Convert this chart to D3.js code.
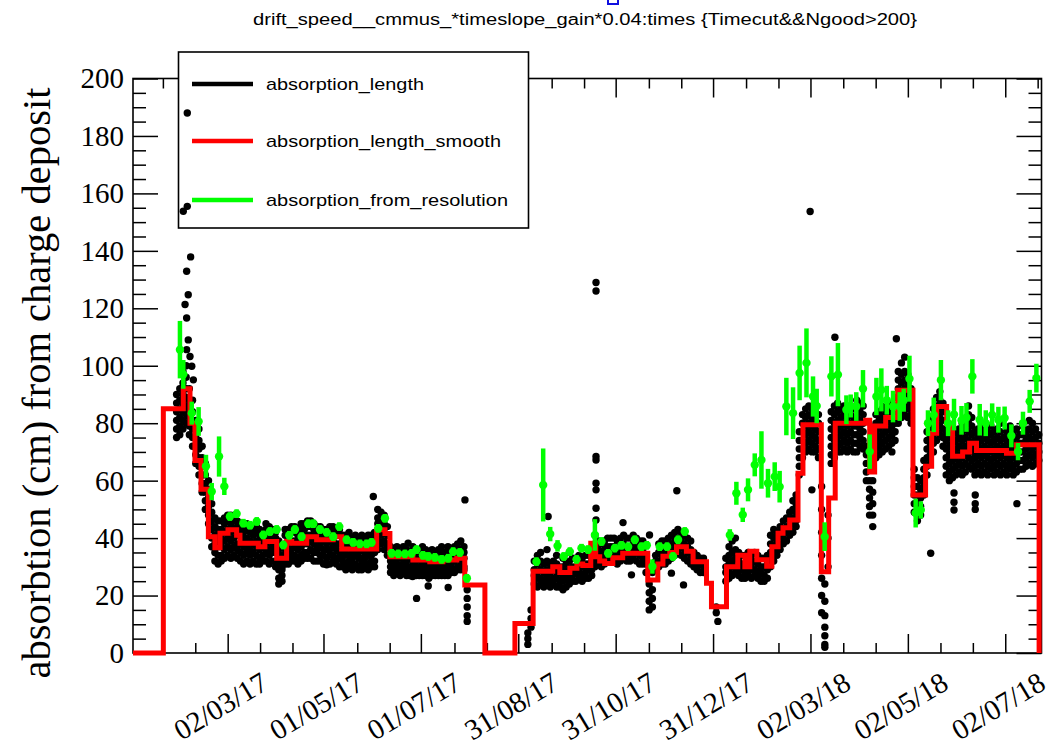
<!DOCTYPE html>
<html>
<head>
<meta charset="utf-8">
<script src="https://cdn.jsdelivr.net/npm/d3@7"></script>
<style>
  body { margin: 0; background: #fff; }
  svg { display: block; }
</style>
</head>
<body>
<svg id="chart" width="1051" height="747"></svg>
<script>
// ---- labels ----
const chartTitle = "drift_speed__cmmus_*timeslope_gain*0.04:times {Timecut&&Ngood>200}";
const yAxisTitle = "absorbtion (cm) from charge deposit";
const seriesNames = ["absorption_length", "absorption_length_smooth", "absorption_from_resolution"];
const seriesColors = ["#000000", "#ff0000", "#00ff00"];
const xTickLabels = ["02/03/17", "01/05/17", "01/07/17", "31/08/17", "31/10/17", "31/12/17", "02/03/18", "02/05/18", "02/07/18"];
const yTickValues = [0, 20, 40, 60, 80, 100, 120, 140, 160, 180, 200];

// ---- data: times are days since 1 Jan 2017 ----
const timeRangeDays = [0.7, 569.7];
const yRange = [0, 200];

// absorption_length: [day, value, value, ...]
const absorptionLength = [
  [28,75,78,81,84,87,90],[30,76,79,82,85,88,92],[32,78,81,84,87,90,94,98],[34,80,83,86,89,92,96,100],
  [36,76,79,82,85,88,92],[38,72,75,78,81,84,88],[40,66,69,72,75,78,81],[42,62,65,68,71,74,78],
  [44,56,59,62,65,68,72],[46,50,53,56,59,62,66],[48,45,48,51,54,57,60],[50,37,40,43,46,49,52],
  [52,32,35,38,41,44,47],[54,31,34,37,40,43,46],[56,32,34,37,40,43,46],[58,33,36,39,42,45,47],
  [60,34,37,40,43,46,48],[62,33,36,39,42,45,48],[64,34,37,40,43,46],[66,33,36,38,41,44,46],
  [68,32,35,38,41,43,45],[70,31,34,37,40,42,44],[72,32,35,37,40,43,45],[74,31,34,36,39,42,44],
  [76,32,35,38,41,43],[78,31,34,37,39,42,44],[80,31,33,36,39,41,43],[82,32,34,37,40,42],
  [84,32,35,38,40,43,45],[86,31,34,36,39,42,44],[88,32,35,37,40,43],[90,30,32,35,38,40,42],
  [92,29,31,34,36,39,24,26],[94,30,32,34,37,25,27,29],[96,31,33,36,38,41,43],[98,31,33,35,38,41,43],
  [100,32,34,36,39,42,44],[102,32,34,37,39,42,44],[104,31,33,36,38,41,43],[106,32,34,37,40,43,45],
  [108,33,35,38,40,43,45],[110,33,35,38,41,44,46],[112,33,36,39,41,44,46],[114,32,35,38,40,43,45],
  [116,32,35,37,40,42,44],[118,32,34,37,39,42,44],[120,31,34,36,39,41,43],[122,31,33,36,38,41,43],
  [124,31,34,36,39,42,44],[126,32,34,37,39,42,44],[128,31,33,36,38,41,43],[130,30,33,35,38,41,43],
  [132,30,32,34,36,39,41],[134,29,31,34,36,38,41],[136,30,32,34,37,39,42],[138,29,31,33,35,38,40],
  [140,30,31,34,36,38,41],[142,29,30,33,35,38,40],[144,29,31,33,36,38,41],[146,30,31,33,35,37,40],
  [148,29,31,34,36,38,41],[150,30,32,34,37,39,41],[152,30,32,35,37,40,42],[154,36,39,42,45,47,50],
  [156,38,41,44,47,49],[158,36,39,42,45,48],[160,34,37,38,41,44],
  [162,28,30,32,34,37],[164,27,29,31,33,36],[166,28,30,31,33,35,37],[168,27,28,30,33,35],
  [170,28,29,31,33,35,37],[172,27,28,30,32,34,36],[174,27,28,30,33,35],[176,27,29,31,33,35,37],
  [178,27,28,30,32,34,36],[180,27,28,30,33,35],[182,27,29,31,33,35,37],[184,27,28,30,32,34,36],
  [186,26,27,29,31,33,35],[188,27,28,30,32,34,36],[190,27,28,30,33,35],[192,27,28,30,32,34,36],
  [194,27,28,30,33,35,37],[196,27,29,31,33,35],[198,27,28,30,33,35,37],[200,28,29,31,34,36],
  [202,28,29,32,34,37],[204,29,30,33,35,38],[206,29,31,33,36,39],[208,29,30,33,35,37],
  [210,22,19,16,13,11],
  [248,3,5,7],[250,9,12,15],[252,24,27,29,32],[254,23,26,28,31,34],[256,24,26,29,32,35],
  [258,23,25,28,31],[260,24,27,29,32,36],[262,23,25,28,31],[264,24,26,29,32],[266,23,26,28,31,34],
  [268,23,25,28,30],[270,22,25,27,30,33],[272,23,26,28,31],[274,24,26,29,32,35],[276,25,27,30,33],
  [278,25,28,30,33],[280,26,28,31,34],[282,25,27,30,33],[284,26,28,31,34],[286,26,29,31,34],
  [288,27,29,32,35],[290,30,32,35,38,41],[292,31,33,36,39],[294,30,33,35,38],[296,31,33,36,39],
  [298,32,34,37,40],[300,32,35,37,40],[302,32,34,37,40],[304,31,34,36,39],[306,32,35,37,40],
  [308,33,35,38,41],[310,32,35,37,40],[312,32,34,37,40],[314,33,36,38,41],[316,32,35,37,40],
  [318,31,34,36,39],[320,31,33,36,39],[322,28,31,33],[324,15,18,21,24,30],[326,16,19,22,28],
  [328,29,32,34],[330,30,32,35,38],[332,31,33,36,39],[334,31,34,36,39],[336,32,34,37,40],
  [338,33,35,38,41],[340,34,36,39,42],[342,35,37,40,43],[344,34,37,39,42],[346,33,36,38,41],
  [348,32,35,37,40],[350,31,34,36,39],[352,30,32,35],[354,29,31,34],[356,28,31,33],[358,28,30,33],
  [366,16,14],[367,11],
  [372,25,28,30,33],[374,26,28,31,34,37],[376,27,30,32,35,39],[378,28,30,33,36,40],[380,27,29,32,35],
  [382,26,29,31,34],[384,26,28,31,34],[386,27,29,32,35],[388,26,29,31,34],[390,27,29,32,35],
  [392,26,28,31,34],[394,25,28,30,33],[396,25,27,30,33],[398,26,29,31,34],[400,30,33,35,38,41],
  [402,32,34,37,40,43],[404,34,36,39,42],[406,36,38,41,44],[408,38,40,43,46],[410,39,42,44,47],
  [412,41,43,46,49],[414,42,45,47,50,53],[416,44,46,49,52,55],[418,62,65,68,71,74,77],
  [420,68,71,74,77,80,83],[422,70,73,76,79,82,85],[424,71,74,77,80,83,86],[426,70,73,76,79,82,85],
  [428,70,72,75,78,81,84],[430,68,71,74,77,80,83],[432,58,50,42,34,26,20,14],[434,24,18,13,9,6,3,2],
  [436,48,40,30],[438,66,69,72,75,78,81,84],[440,68,71,74,77,80,83,86],[442,70,72,75,78,81,84,87],
  [444,70,73,76,79,82,85],[446,71,74,77,80,83,86],[448,70,73,76,79,82,85],[450,71,74,77,80,83,86],
  [452,70,73,76,79,82,85],[454,70,73,76,79,82,85,88],[456,72,75,78,81,84,87],[458,71,74,77,80,83,86],
  [460,60,63,66,69,72],[462,48,51,54,57,60],[464,44,48,52,56,60],[466,68,71,74,77,80,83],
  [468,69,72,75,78,81,84],[470,70,73,76,79,82,85],[472,71,74,77,80,83,86],[474,72,75,78,81,84,87],
  [476,70,73,76,79,82,85],[478,74,77,80,83,86,89],[480,80,83,86,89,92,95,98],[482,82,85,88,91,94,97,101],
  [484,83,86,89,92,95,98,103],[486,82,85,88,91,94,97],[488,80,83,86,89,92],[490,49,52,55,58,61,64],
  [492,46,49,52,55,58,61],[494,48,51,54,57,60],[496,55,58,61,64,67],[498,62,65,68,71,74,77],
  [500,66,69,72,75,78,81],[502,70,73,76,79,82,85],[504,74,77,80,83,86,89],[506,76,79,82,85,88,91],
  [508,72,75,78,81,84,87],[510,62,65,68,71,74,77],[512,60,63,66,69,72,75],[514,61,64,67,70,73,76],
  [516,62,65,68,71,74,77],[518,63,66,69,72,75,78],[520,62,65,68,71,74,77,80],[522,63,66,69,72,75,78],
  [524,65,68,71,74,77,80,83,86],[526,64,67,70,73,76,79,82],[528,62,65,68,71,74,77],[530,63,66,69,72,75,78],
  [532,62,65,68,71,74,77,80],[534,63,66,69,72,75,78],[536,62,65,68,71,74,77],[538,64,67,70,73,76,79],
  [540,62,65,68,71,74,77],[542,63,66,69,72,75,78],[544,62,65,68,71,74,77,80],[546,63,66,69,72,75],
  [548,62,65,68,71,74,77],[550,64,67,70,73,76,79],[552,62,65,68,71,74,77],[554,63,66,69,72,75,78],
  [556,64,67,70,73,76],[558,64,67,70,73,76,79],[560,65,68,71,74,77],[562,66,69,72,75,78,81],
  [564,65,68,71,74,77,80],[566,66,69,72,75,78],[568,67,70,73,76]
];

// isolated absorption_length points: [day, value]
const absorptionOutliers = [
  [32.2,153.8],[34.7,155.5],[34.7,188],[36.8,137.9],[34.3,132.9],[34.3,116.6],[34.3,105.6],
  [35.3,124.7],[35.3,109],[33.3,121.3],[36.4,103.2],[37.5,99.8],[38.5,95.1],
  [122,30.7],[151.2,54.5],[178.3,19],[185.6,23.3],[198.1,22.8],[175.8,26.6],[173,38.2],[208.6,53.3],
  [260.7,47.5],[290.7,129],[290.7,126],[290.7,68.4],[290.7,67.2],[290.7,59.1],[290.7,56.8],
  [290.7,50.4],[290.7,46.3],[307.6,45.4],[312.9,27.2],[324.2,41.1],[341.3,56.5],[345.5,23.7],
  [337.9,27.8],[424.8,153.7],[425.9,56.8],[440.3,109.9],[478.8,109.4],[500.3,34.7],
  [514.9,55.7],[514.9,52.5],[514.9,49.8],[528.2,55],[528.2,52],[528.2,50],[554.3,52]
];

// absorption_length_smooth: step starts [day, value]
const smoothSteps = [
  [0.7,0],[19.7,85],[32.2,92],[36.4,80],[39.5,67],[43.3,57],[47.9,40.5],[52,36.6],[55.2,41.7],
  [60.2,42.9],[65.6,41],[67.7,38.2],[79.2,37],[83.3,38.8],[90.7,33],[96.9,38.8],[100.1,38.2],
  [109.5,40.5],[115.7,39.4],[126.1,40.5],[131.4,36.2],[153.3,42.9],[158.5,41.6],[161.6,33.5],
  [176,32.4],[186.6,31.8],[194.8,32.4],[203.5,33],[208.5,23.7],[221.1,0],[239.9,10.3],
  [251.3,28.5],[263.6,30],[268,28],[274.3,29.5],[278.7,31],[282.4,30.5],[287.4,38.2],[290.5,33.5],
  [293,32],[296.1,31.2],[301.2,33.2],[307.4,34.7],[323.1,25.4],[329.4,31],[332.6,33.7],
  [336.9,35],[341.1,37],[347.3,35.4],[351.5,31.8],[359.9,24.3],[363,16.1],[372.4,30],[379.5,34],
  [383.9,30],[387,35.4],[391.4,32.5],[397.6,30.2],[400.8,37],[404.7,41.7],[407.8,43.6],[412,46.3],
  [417.2,62.6],[420.3,79.5],[431.8,28.3],[436.4,54],[440.5,80],[459.6,81],[462.1,63],[465.2,79],
  [472.1,82],[479.6,91.5],[489.2,55],[497.1,65],[500.9,76.5],[504,85.8],[510.3,80],[514,68.5],
  [520.3,70],[524.7,73],[529,70.5],[547.8,69.5],[554.1,72.5],[568.2,0]
];

// absorption_from_resolution: [day, value, error]
const resolutionPoints = [
  [30.1,105.6,10],[32.2,97,5],[37.5,83.5,4],[41.8,80.6,5],[46.4,65,4],[50,56.2,3],[54.6,68.4,7],
  [57.9,58,3],[61.4,47.5,1.5],[65.6,48.5,1.5],[69.8,45.2,1.5],[74,44.5,1.5],[78.2,45.8,1.5],
  [82.3,41.1,1.5],[86.5,42.3,1.5],[90.7,43,1.5],[94.8,37.6,1.5],[98.6,41,1.5],[102.1,43,1.5],
  [106.3,40.5,1.5],[110.5,45,1.5],[113.6,45,1.5],[117.8,43,1.5],[122,42,1.5],[126.1,40.5,1.5],
  [129.9,44,1.5],[134.5,39.4,1.5],[138.6,38.5,1.5],[142.8,38,1.5],[147,38,1.5],[150.1,38.5,1.5],
  [154.3,43.4,1.5],[158.5,46.9,1.5],[162.7,34.7,1.5],[166.8,34.5,1.5],[171,34.5,1.5],
  [175.2,34.7,1.5],[178.3,36,1.5],[182.3,34,1.5],[185.6,33.6,1.5],[189.8,33.3,1.5],[194,32.6,1.5],
  [198.1,33,1.5],[201.2,35.3,1.5],[205.4,35,1.5],[209.8,26,1.5],
  [253.4,31.8,1.5],[257.6,58.5,12.7],[262,41.4,2.5],[266.6,37.3,2],[270.5,33.6,1.5],
  [274.3,35.3,1.5],[278.5,32.6,1.5],[281.6,36.5,1.5],[285.7,36,1.5],[290,41.1,5.5],
  [294.1,38.8,1.5],[298.3,34.7,1.5],[302.5,36.5,1.5],[306.6,37.5,1.5],[310.8,37,1.5],
  [315,39.4,1.5],[319.2,37,1.5],[322.5,37.5,1.5],[326,30.1,2.5],[330.6,37,1.5],[335.2,37,1.5],
  [338.9,33.6,1.5],[342.1,39.4,1.5],[346.3,42.3,1.5],
  [374.5,41.1,2],[378.6,55.6,4],[382.6,48.1,2.5],[385.9,56.8,4],[390.1,65.5,4],[394.3,67.2,10],
  [398.4,59.1,5],[402.6,61.4,5],[405.7,57.9,5.5],[409.9,85.8,10],[414.1,83.5,9],[418.2,97.5,9.5],
  [422.5,101,12],[426.6,89.3,7],[428.9,86,6],[433.9,40.5,5],[438.1,96.3,7],[442.2,96.9,11],
  [447.5,84.7,5],[450.2,86,4],[453.7,85.8,5],[457.9,92,6.5],[462.1,70.1,6],[466.3,89.3,6.5],
  [469.4,91.6,7.5],[472.8,88,5],[476.7,85.8,5.5],[480.9,85.8,5],[483.4,88,4],[487,95.5,8],
  [490.9,48.7,5],[494.1,49.8,3],[498.6,80,4.5],[502.2,82.9,6],[506.7,95,7],[511.2,80,4.5],
  [514.9,83,5.5],[519.6,81,5],[522.7,82,5],[526.4,96.3,6],[531,81.2,5.5],[534.8,80,4.5],
  [538.8,82.9,4],[542.7,81.2,4.5],[546.6,81.8,4],[550.8,75.6,4],[555,70.1,3],[558.1,80,4],
  [562.3,87.6,4],[566.5,95.7,5]
];

// ---- drawing ----
const svg = d3.select("#chart");
const W = 1051, H = 747;
const plot = { left: 133, right: 1041.5, top: 78.5, bottom: 653 };
const serif = "'Liberation Serif','Times New Roman',serif";
const sans = "'Liberation Sans',Arial,Helvetica,sans-serif";

svg.append("rect").attr("width", W).attr("height", H).attr("fill", "#fff");

const dayZero = Date.UTC(2017, 0, 1);
const toDate = d => new Date(dayZero + d * 864e5);
const parseLabel = d3.utcParse("%d/%m/%y");

const x = d3.scaleUtc().domain(timeRangeDays.map(toDate)).range([plot.left, plot.right]);
const y = d3.scaleLinear().domain(yRange).range([plot.bottom, plot.top]);

// time ticks: majors at the labelled dates, two minors between each pair
const majorDates = xTickLabels.map(parseLabel);
const majorPx = majorDates.map(x);
const step = (majorPx[majorPx.length - 1] - majorPx[0]) / (majorPx.length - 1);
const minorPx = [];
for (let p = majorPx[0] - step; p < plot.right; p += step) {
  [1, 2].forEach(k => {
    const v = p + k * step / 3;
    if (v > plot.left + 1 && v < plot.right - 1) minorPx.push(v);
  });
}
const minorDates = minorPx.map(p => x.invert(p));

const axes = svg.append("g").attr("class", "axes");
const tickStroke = g => {
  g.select(".domain").remove();
  g.selectAll("line").attr("stroke", "#000").attr("stroke-width", 1.5);
  g.selectAll("text").remove();
};

// bottom & top time axes (ticks point into the frame)
axes.append("g").attr("transform", `translate(0,${plot.bottom})`)
  .call(d3.axisTop(x).tickValues(majorDates).tickSize(19).tickFormat("")).call(tickStroke);
axes.append("g").attr("transform", `translate(0,${plot.bottom})`)
  .call(d3.axisTop(x).tickValues(minorDates).tickSize(10).tickFormat("")).call(tickStroke);
axes.append("g").attr("transform", `translate(0,${plot.top})`)
  .call(d3.axisBottom(x).tickValues(majorDates).tickSize(19).tickFormat("")).call(tickStroke);
axes.append("g").attr("transform", `translate(0,${plot.top})`)
  .call(d3.axisBottom(x).tickValues(minorDates).tickSize(10).tickFormat("")).call(tickStroke);

// left & right value axes
const yMinor = d3.range(yRange[0], yRange[1] + 0.1, 5).filter(v => v % 20 !== 0);
axes.append("g").attr("transform", `translate(${plot.left},0)`)
  .call(d3.axisRight(y).tickValues(yTickValues).tickSize(25).tickFormat("")).call(tickStroke);
axes.append("g").attr("transform", `translate(${plot.left},0)`)
  .call(d3.axisRight(y).tickValues(yMinor).tickSize(13).tickFormat("")).call(tickStroke);
axes.append("g").attr("transform", `translate(${plot.right},0)`)
  .call(d3.axisLeft(y).tickValues(yTickValues).tickSize(25).tickFormat("")).call(tickStroke);
axes.append("g").attr("transform", `translate(${plot.right},0)`)
  .call(d3.axisLeft(y).tickValues(yMinor).tickSize(13).tickFormat("")).call(tickStroke);

// frame
svg.append("rect")
  .attr("x", plot.left).attr("y", plot.top)
  .attr("width", plot.right - plot.left).attr("height", plot.bottom - plot.top)
  .attr("fill", "none").attr("stroke", "#000").attr("stroke-width", 1.6);

// y tick labels
svg.append("g").selectAll("text").data(yTickValues).join("text")
  .attr("x", 124).attr("y", d => y(d)).attr("dy", "0.34em")
  .attr("text-anchor", "end")
  .attr("font-family", serif).attr("font-size", 29).attr("fill", "#000")
  .text(d => d);

// x tick labels (rotated)
svg.append("g").selectAll("text").data(xTickLabels).join("text")
  .attr("transform", d => `translate(${x(parseLabel(d)) - 7},706) rotate(-31)`)
  .attr("dy", "0.34em")
  .attr("text-anchor", "middle")
  .attr("font-family", serif).attr("font-size", 29).attr("fill", "#000")
  .text(d => d);

// y axis title
svg.append("text")
  .attr("transform", `translate(50,383) rotate(-90)`)
  .attr("text-anchor", "middle")
  .attr("font-family", serif).attr("font-size", 40.5).attr("fill", "#000")
  .text(yAxisTitle);

// chart title
svg.append("text")
  .attr("x", 585).attr("y", 25)
  .attr("text-anchor", "middle")
  .attr("font-family", sans).attr("font-size", 16).attr("fill", "#000")
  .attr("textLength", 664).attr("lengthAdjust", "spacingAndGlyphs")
  .text(chartTitle);

// small blue marker at the top edge
svg.append("rect")
  .attr("x", 608).attr("y", -2).attr("width", 10).attr("height", 6)
  .attr("fill", "none").attr("stroke", "#1010e0").attr("stroke-width", 2);

// legend (white box over the frame; data drawn afterwards)
const legend = svg.append("g");
legend.append("rect")
  .attr("x", 178.5).attr("y", 52).attr("width", 350).attr("height", 176)
  .attr("fill", "#fff").attr("stroke", "#000").attr("stroke-width", 1.6);
const legendRows = [84, 141, 200];
const legendWidths = [158, 235, 242];
seriesNames.forEach((name, i) => {
  legend.append("line")
    .attr("x1", 192).attr("x2", 253).attr("y1", legendRows[i]).attr("y2", legendRows[i])
    .attr("stroke", seriesColors[i]).attr("stroke-width", 4.5);
  legend.append("text")
    .attr("x", 266).attr("y", legendRows[i] + 6)
    .attr("font-family", sans).attr("font-size", 17).attr("fill", "#000")
    .attr("textLength", legendWidths[i]).attr("lengthAdjust", "spacingAndGlyphs")
    .text(name);
});

// ---- series ----
const dataLayer = svg.append("g");

// absorption_length points
const blackPoints = absorptionLength.flatMap(row => row.slice(1).map(v => [row[0], v]))
  .concat(absorptionOutliers);
dataLayer.append("g").selectAll("circle").data(blackPoints).join("circle")
  .attr("cx", d => x(toDate(d[0])))
  .attr("cy", d => y(d[1]))
  .attr("r", 3.7)
  .attr("fill", seriesColors[0]);

// absorption_length_smooth step line
const stepLine = d3.line()
  .x(d => x(toDate(d[0])))
  .y(d => y(d[1]))
  .curve(d3.curveStepAfter);
dataLayer.append("path")
  .datum(smoothSteps)
  .attr("d", stepLine)
  .attr("fill", "none")
  .attr("stroke", seriesColors[1])
  .attr("stroke-width", 5)
  .attr("stroke-linejoin", "miter");

// absorption_from_resolution with error bars
const green = dataLayer.append("g");
green.selectAll("line").data(resolutionPoints).join("line")
  .attr("x1", d => x(toDate(d[0]))).attr("x2", d => x(toDate(d[0])))
  .attr("y1", d => y(d[1] - d[2])).attr("y2", d => y(d[1] + d[2]))
  .attr("stroke", seriesColors[2]).attr("stroke-width", 4.5);
green.selectAll("circle").data(resolutionPoints).join("circle")
  .attr("cx", d => x(toDate(d[0])))
  .attr("cy", d => y(d[1]))
  .attr("r", 4.2)
  .attr("fill", seriesColors[2]);
</script>
</body>
</html>
